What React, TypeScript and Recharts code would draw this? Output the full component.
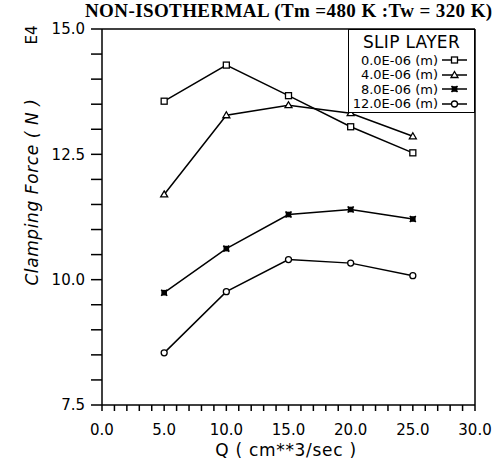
import { LineChart, Line, XAxis, YAxis, ReferenceLine, Legend } from "recharts";

// flow rate Q (cm**3/sec)
const flowRates = [5, 10, 15, 20, 25];

// clamping force, units of E4 N, one list per slip layer thickness
const slip0 = [13.56, 14.28, 13.67, 13.05, 12.53];
const slip4 = [11.7, 13.28, 13.48, 13.32, 12.86];
const slip8 = [9.74, 10.62, 11.3, 11.4, 11.21];
const slip12 = [8.54, 9.76, 10.4, 10.33, 10.08];

const seriesNames = ["0.0E-06 (m)", "4.0E-06 (m)", "8.0E-06 (m)", "12.0E-06 (m)"];
const markers = ["square", "triangle", "star", "circle"];

const xTicks = Array.from({ length: 31 }, (_, i) => i);
const yTicks = Array.from({ length: 16 }, (_, i) => 7.5 + i * 0.5);

const data = flowRates.map((q, i) => ({
  q,
  s0: slip0[i],
  s4: slip4[i],
  s8: slip8[i],
  s12: slip12[i],
}));

const keys = ["s0", "s4", "s8", "s12"];

function Marker({ cx, cy, kind }: { cx: number; cy: number; kind: string }) {
  if (cx == null || cy == null) return null;
  if (kind === "square")
    return <rect x={cx - 3} y={cy - 3} width={6} height={6} fill="white" stroke="black" strokeWidth={1.3} />;
  if (kind === "triangle")
    return (
      <polygon
        points={`${cx},${cy - 3.5} ${cx + 3.5},${cy + 2.5} ${cx - 3.5},${cy + 2.5}`}
        fill="white"
        stroke="black"
        strokeWidth={1.3}
      />
    );
  if (kind === "star")
    return (
      <g stroke="black" strokeWidth={1.6}>
        <line x1={cx - 3} y1={cy - 3} x2={cx + 3} y2={cy + 3} />
        <line x1={cx - 3} y1={cy + 3} x2={cx + 3} y2={cy - 3} />
        <rect x={cx - 2} y={cy - 2} width={4} height={4} fill="black" />
      </g>
    );
  return <circle cx={cx} cy={cy} r={3} fill="white" stroke="black" strokeWidth={1.3} />;
}

const font = "'DejaVu Sans', sans-serif";

function LegendBox() {
  return (
    <div
      style={{
        width: 127,
        height: 84,
        border: "1.5px solid black",
        background: "white",
        fontFamily: font,
        boxSizing: "border-box",
      }}
    >
      <div style={{ textAlign: "center", fontSize: 17, marginTop: 2, lineHeight: "21px", letterSpacing: 0.3 }}>
        SLIP LAYER
      </div>
      {seriesNames.map((name, i) => (
        <div key={name} style={{ display: "flex", alignItems: "center", height: 14.5, fontSize: 13 }}>
          <span style={{ width: 89, textAlign: "right", whiteSpace: "nowrap" }}>{name}</span>
          <svg width={30} height={12} style={{ marginLeft: 3 }}>
            <line x1={1} y1={6} x2={26} y2={6} stroke="black" strokeWidth={1.5} />
            <Marker cx={13.5} cy={6} kind={markers[i]} />
          </svg>
        </div>
      ))}
    </div>
  );
}

export default function App() {
  return (
    <div style={{ position: "absolute", left: 0, top: 0, width: 496, height: 463, background: "white" }}>
      <div
        style={{
          position: "absolute",
          left: 85,
          top: 0,
          fontFamily: "'Liberation Serif', serif",
          fontWeight: "bold",
          fontSize: 19,
          whiteSpace: "nowrap",
          letterSpacing: 0.4,
        }}
      >
        NON-ISOTHERMAL (Tm =480 K :Tw = 320 K)
      </div>
      <div
        style={{
          position: "absolute",
          left: 32,
          top: 35,
          fontFamily: font,
          fontSize: 15,
          transform: "translate(-50%, -50%) rotate(-90deg)",
          whiteSpace: "nowrap",
        }}
      >
        E4
      </div>
      <div
        style={{
          position: "absolute",
          left: 32,
          top: 192,
          fontFamily: font,
          fontSize: 17,
          fontStyle: "italic",
          letterSpacing: 0.6,
          transform: "translate(-50%, -50%) rotate(-90deg)",
          whiteSpace: "nowrap",
        }}
      >
        Clamping Force ( N )
      </div>
      <div
        style={{
          position: "absolute",
          left: 286,
          top: 450,
          fontFamily: font,
          fontSize: 17,
          letterSpacing: 0.7,
          transform: "translate(-50%, -50%)",
          whiteSpace: "nowrap",
        }}
      >
        Q ( cm**3/sec )
      </div>
      <LineChart width={496} height={463} data={data} margin={{ top: 29, right: 21, bottom: 0, left: 0 }}>
        <XAxis
          dataKey="q"
          type="number"
          domain={[0, 30]}
          ticks={xTicks}
          interval={0}
          tickSize={6}
          tickMargin={13}
          height={58}
          stroke="black"
          strokeWidth={1.5}
          tick={{ fill: "black", fontSize: 15, fontFamily: font }}
          tickFormatter={(v: number) => (v % 5 === 0 ? v.toFixed(1) : "")}
        />
        <YAxis
          type="number"
          domain={[7.5, 15]}
          ticks={yTicks}
          interval={0}
          width={102}
          tickSize={11}
          tickMargin={6}
          stroke="black"
          strokeWidth={1.5}
          tick={{ fill: "black", fontSize: 15, fontFamily: font }}
          tickFormatter={(v: number) => (v % 2.5 === 0 ? v.toFixed(1) : "")}
        />
        <ReferenceLine y={15} stroke="black" strokeWidth={1.5} />
        <ReferenceLine x={30} stroke="black" strokeWidth={1.5} />
        {keys.map((k, i) => (
          <Line
            key={k}
            dataKey={k}
            name={seriesNames[i]}
            stroke="black"
            strokeWidth={1.5}
            isAnimationActive={false}
            dot={(p: any) => <Marker key={`${k}-${p.index}`} cx={p.cx} cy={p.cy} kind={markers[i]} />}
          />
        ))}
        <Legend
          layout="horizontal"
          verticalAlign="middle"
          align="center"
          content={() => <LegendBox />}
          wrapperStyle={{ position: "absolute", left: 348, top: 29, width: 127, bottom: "auto" }}
        />
      </LineChart>
    </div>
  );
}
